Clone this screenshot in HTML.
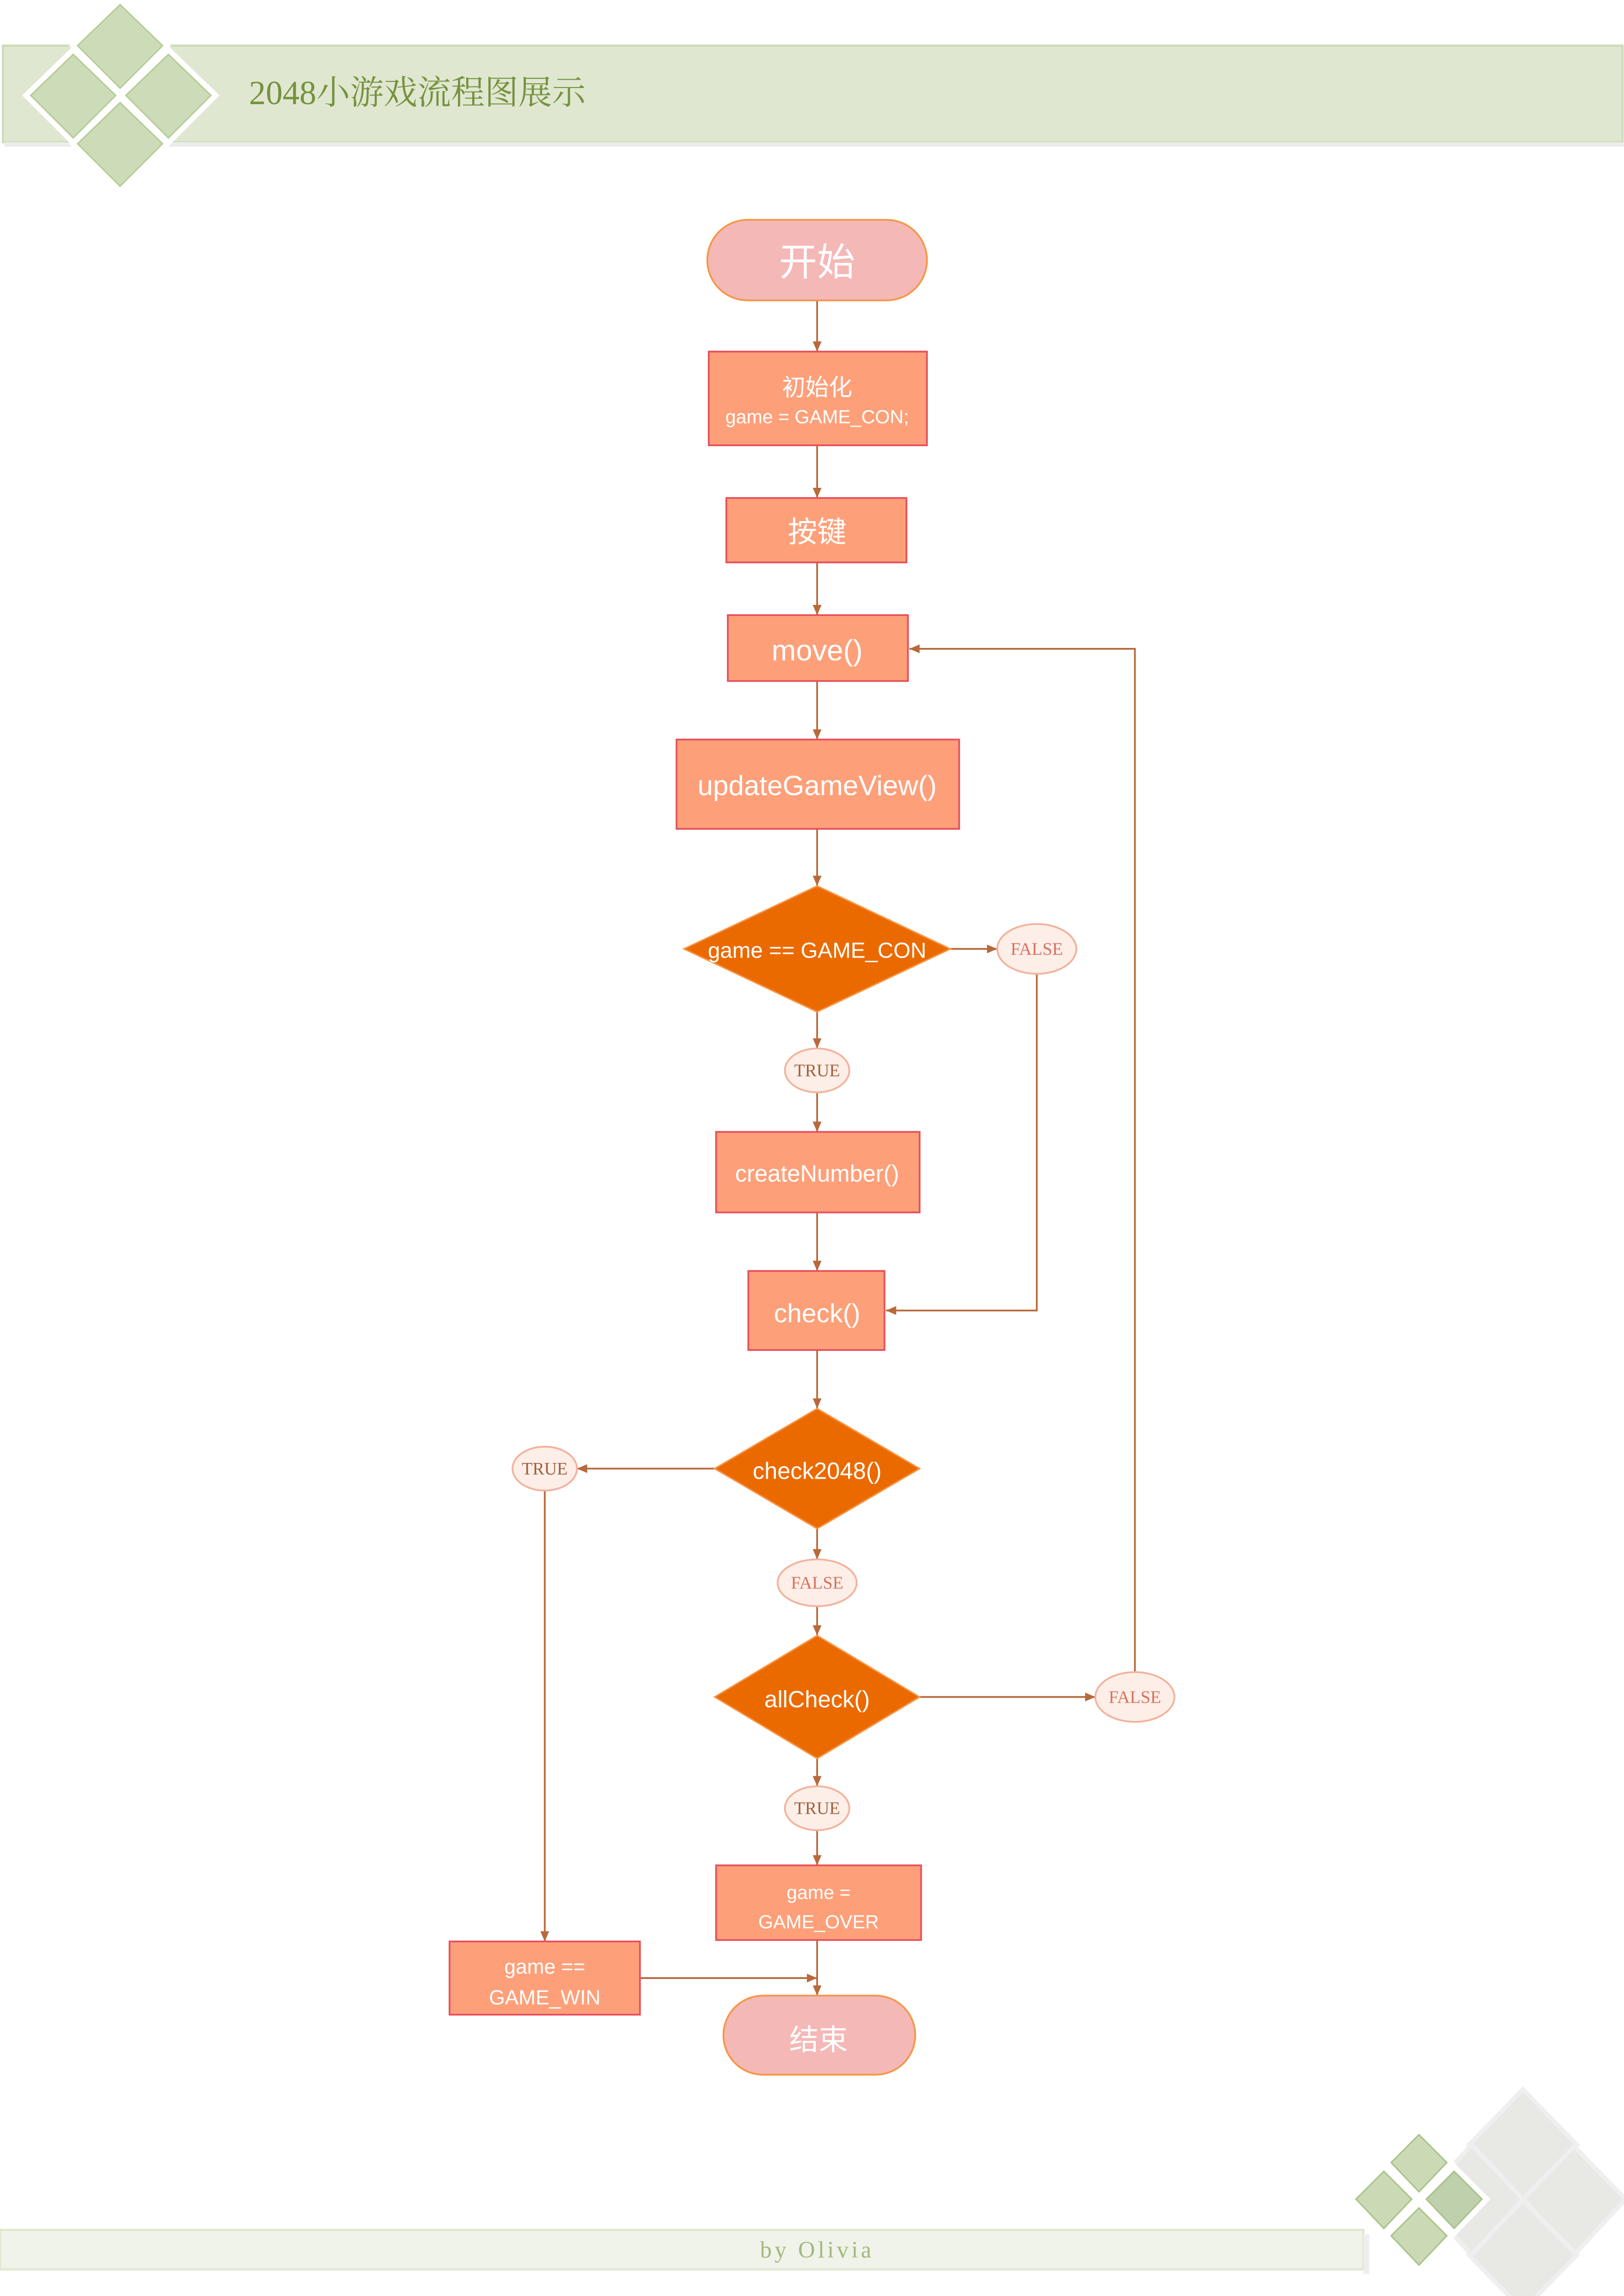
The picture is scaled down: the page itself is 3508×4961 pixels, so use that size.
<!DOCTYPE html>
<html><head><meta charset="utf-8"><style>
html,body{margin:0;padding:0;background:#fff;}
svg{display:block;}
.t{font-family:"Liberation Sans","Noto Sans CJK SC",sans-serif;fill:#fff;text-anchor:middle;}
.s{font-family:"Liberation Serif","Noto Serif CJK SC",serif;text-anchor:middle;}
</style></head><body>
<svg width="3508" height="4961" viewBox="0 0 1109 1568" xmlns="http://www.w3.org/2000/svg">
<defs>
<marker id="a" markerWidth="8" markerHeight="8" refX="7" refY="4" orient="auto" markerUnits="userSpaceOnUse">
<path d="M0,1 L7,4 L0,7 Z" fill="#b8693a"/></marker>
</defs>
<!-- header -->
<rect x="2" y="31" width="1106" height="66" fill="#dfe7d1" stroke="#cddcb8" stroke-width="1.5"/>
<rect x="3" y="97" width="1106" height="3" fill="#ececec"/>
<g fill="#cddcb8" stroke="#b5cc94" stroke-width="1">
<path d="M82,0 L114,31 L82,63 L50,31 Z" stroke="#fff" stroke-width="4"/>
<path d="M82,3 L111,31 L82,60 L53,31 Z"/>
<path d="M50,34 L82,65 L50,97 L18,65 Z" stroke="#fff" stroke-width="4"/>
<path d="M50,37 L79,65 L50,94 L21,65 Z"/>
<path d="M115,34 L147,65 L115,97 L83,65 Z" stroke="#fff" stroke-width="4"/>
<path d="M115,37 L144,65 L115,94 L86,65 Z"/>
<path d="M82,67 L114,98 L82,130 L50,98 Z" stroke="#fff" stroke-width="4"/>
<path d="M82,70 L111,98 L82,127 L53,98 Z"/>
</g>
<text x="170" y="71" class="s" style="text-anchor:start" font-size="23" fill="#76923c">2048小游戏流程图展示</text>

<!-- connectors -->
<g stroke="#b8693a" stroke-width="1.2" fill="none">
<line x1="558" y1="205" x2="558" y2="240" marker-end="url(#a)"/>
<line x1="558" y1="304" x2="558" y2="340" marker-end="url(#a)"/>
<line x1="558" y1="384" x2="558" y2="420" marker-end="url(#a)"/>
<line x1="558" y1="465" x2="558" y2="505" marker-end="url(#a)"/>
<line x1="558" y1="566" x2="558" y2="605" marker-end="url(#a)"/>
<line x1="558" y1="691" x2="558" y2="716" marker-end="url(#a)"/>
<line x1="558" y1="746" x2="558" y2="773" marker-end="url(#a)"/>
<line x1="558" y1="828" x2="558" y2="868" marker-end="url(#a)"/>
<line x1="558" y1="922" x2="558" y2="962" marker-end="url(#a)"/>
<line x1="558" y1="1044" x2="558" y2="1065" marker-end="url(#a)"/>
<line x1="558" y1="1097" x2="558" y2="1117" marker-end="url(#a)"/>
<line x1="558" y1="1201" x2="558" y2="1220" marker-end="url(#a)"/>
<line x1="558" y1="1250" x2="558" y2="1274" marker-end="url(#a)"/>
<line x1="558" y1="1325" x2="558" y2="1363" marker-end="url(#a)"/>
<line x1="649" y1="648" x2="681" y2="648" marker-end="url(#a)"/>
<polyline points="708,665 708,895 605,895" marker-end="url(#a)"/>
<line x1="488" y1="1003" x2="394" y2="1003" marker-end="url(#a)"/>
<line x1="372" y1="1018" x2="372" y2="1326" marker-end="url(#a)"/>
<line x1="437" y1="1351" x2="558" y2="1351" marker-end="url(#a)"/>
<line x1="628" y1="1159" x2="748" y2="1159" marker-end="url(#a)"/>
<polyline points="775,1142 775,443 621,443" marker-end="url(#a)"/>
</g>

<!-- nodes -->
<rect x="483" y="150" width="150" height="55" rx="27.5" fill="#f4b8b7" stroke="#f79646" stroke-width="1.2"/>
<text x="558" y="188" class="t" font-size="26">开始</text>

<g fill="#fda07a" stroke="#e8505b" stroke-width="1.2">
<rect x="484" y="240" width="149" height="64"/>
<rect x="496" y="340" width="123" height="44"/>
<rect x="497" y="420" width="123" height="45"/>
<rect x="462" y="505" width="193" height="61"/>
<rect x="489" y="773" width="139" height="55"/>
<rect x="511" y="868" width="93" height="54"/>
<rect x="489" y="1274" width="140" height="51"/>
<rect x="307" y="1326" width="130" height="50"/>
</g>
<text x="558" y="270" class="t" font-size="16">初始化</text>
<text x="558" y="289" class="t" font-size="13">game = GAME_CON;</text>
<text x="558" y="370" class="t" font-size="20">按键</text>
<text x="558" y="451" class="t" font-size="20">move()</text>
<text x="558" y="543" class="t" font-size="19">updateGameView()</text>
<text x="558" y="807" class="t" font-size="16">createNumber()</text>
<text x="558" y="903" class="t" font-size="18">check()</text>
<text x="559" y="1297" class="t" font-size="13">game =</text>
<text x="559" y="1317" class="t" font-size="13">GAME_OVER</text>
<text x="372" y="1348" class="t" font-size="14">game ==</text>
<text x="372" y="1369" class="t" font-size="14">GAME_WIN</text>

<g fill="#eb6a00" stroke="#f79646" stroke-width="1">
<path d="M558,605 L649,648 L558,691 L467,648 Z"/>
<path d="M558,962 L628,1003 L558,1044 L488,1003 Z"/>
<path d="M558,1117 L628,1159 L558,1201 L488,1159 Z"/>
</g>
<text x="558" y="654" class="t" font-size="15">game == GAME_CON</text>
<text x="558" y="1010" class="t" font-size="16">check2048()</text>
<text x="558" y="1166" class="t" font-size="16">allCheck()</text>

<g fill="#fdeee8" stroke="#f4b19a" stroke-width="1.2">
<ellipse cx="708" cy="648" rx="27" ry="17"/>
<ellipse cx="558" cy="731" rx="22" ry="15"/>
<ellipse cx="372" cy="1003" rx="22" ry="15"/>
<ellipse cx="558" cy="1081" rx="27" ry="16"/>
<ellipse cx="775" cy="1159" rx="27" ry="17"/>
<ellipse cx="558" cy="1235" rx="22" ry="15"/>
</g>
<g class="s" font-size="12" fill="#d9705e">
<text x="708" y="652">FALSE</text>
<text x="558" y="735" fill="#a0603c">TRUE</text>
<text x="372" y="1007" fill="#a0603c">TRUE</text>
<text x="558" y="1085">FALSE</text>
<text x="775" y="1163">FALSE</text>
<text x="558" y="1239" fill="#a0603c">TRUE</text>
</g>

<rect x="494" y="1363" width="131" height="54" rx="27" fill="#f4b8b7" stroke="#f79646" stroke-width="1.2"/>
<text x="559" y="1400" class="t" font-size="20">结束</text>

<!-- footer -->
<rect x="0" y="1523" width="931" height="27" fill="#eff3ea" stroke="#dfe7d1" stroke-width="1.5"/>
<rect x="931" y="1526" width="4" height="27" fill="#eeeeee"/>
<text x="558" y="1542" class="s" font-size="16" fill="#a4b87c" letter-spacing="2">by Olivia</text>

<g fill="#e8e9e5" stroke="#efefef" stroke-width="3">
<path d="M1040,1427 L1077,1465 L1040,1503 L1003,1465 Z"/>
<path d="M1075,1466 L1110,1502 L1075,1540 L1040,1502 Z"/>
<path d="M1040,1503 L1077,1540 L1040,1578 L1003,1540 Z"/>
<path d="M1005,1465 L1040,1502 L1005,1540 L970,1502 Z"/>
</g>
<g fill="#cbdab5" stroke="#a9c28a" stroke-width="1">
<path d="M969,1455 L991,1477 L969,1500 L947,1477 Z" stroke="#fff" stroke-width="4"/>
<path d="M969,1458 L988,1477 L969,1497 L950,1477 Z"/>
<path d="M945,1480 L967,1502 L945,1525 L923,1502 Z" stroke="#fff" stroke-width="4"/>
<path d="M945,1483 L964,1502 L945,1522 L926,1502 Z"/>
<path d="M993,1480 L1015,1502 L993,1525 L971,1502 Z" stroke="#fff" stroke-width="4"/>
<path d="M993,1483 L1012,1502 L993,1522 L974,1502 Z" fill="#bfd0ad"/>
<path d="M969,1505 L991,1527 L969,1550 L947,1527 Z" stroke="#fff" stroke-width="4"/>
<path d="M969,1508 L988,1527 L969,1547 L950,1527 Z"/>
</g>
</svg>
</body></html>
